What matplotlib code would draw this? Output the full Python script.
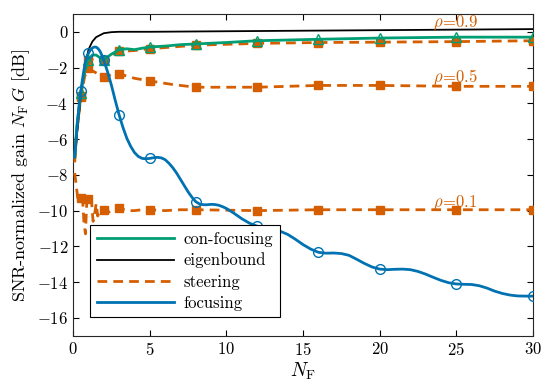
import numpy as np
import matplotlib
matplotlib.use("Agg")
import matplotlib.pyplot as plt
from matplotlib.lines import Line2D

plt.rcParams['font.family'] = 'serif'
plt.rcParams['font.serif'] = ['cmr10']
plt.rcParams['mathtext.fontset'] = 'cm'
plt.rcParams['axes.formatter.use_mathtext'] = True

# marker positions (N_F)
x_marks = [0.5, 1, 2, 3, 5, 8, 12, 16, 20, 25, 30]

# con-focusing
x_con = [0.1, 0.25, 0.5, 0.75, 1, 1.25, 1.5, 1.75, 2, 2.5, 3, 3.5, 4, 4.5, 5, 6, 7, 8, 10, 12, 16, 20, 25, 30]
y_con = [-7.0, -5.2, -3.4, -2.2, -1.55, -1.3, -1.3, -1.45, -1.55, -1.25, -1.0, -0.95, -1.0, -0.92, -0.85,
         -0.8, -0.72, -0.68, -0.6, -0.5, -0.42, -0.35, -0.3, -0.3]

# eigenbound
x_eig = [0.1, 0.3, 0.5, 0.75, 1, 1.25, 1.5, 2, 2.5, 3, 5, 10, 15, 20, 25, 30]
y_eig = [-7.0, -5.3, -3.6, -2.0, -1.0, -0.55, -0.3, -0.08, -0.02, 0.0, 0.0, 0.03, 0.06, 0.09, 0.12, 0.15]

# steering, rho = 0.9
x_s9 = [0.1, 0.25, 0.5, 0.75, 1, 1.5, 2, 2.5, 3, 4, 5, 6.5, 8, 10, 12, 16, 20, 25, 30]
y_s9 = [-7.1, -5.4, -3.6, -2.3, -1.6, -1.45, -1.6, -1.3, -1.1, -1.05, -0.95, -0.85, -0.75, -0.7,
        -0.65, -0.6, -0.58, -0.55, -0.5]

# steering, rho = 0.5
x_s5 = [0.1, 0.25, 0.5, 0.75, 1, 1.5, 2, 2.5, 3, 4, 5, 6.5, 8, 10, 12, 14, 16, 20, 25, 30]
y_s5 = [-7.3, -5.5, -3.65, -2.5, -2.05, -2.3, -2.55, -2.4, -2.35, -2.6, -2.75, -2.95, -3.1, -3.1,
        -3.1, -3.05, -3.0, -3.0, -3.05, -3.05]

# steering, rho = 0.1
x_s1 = [0.1, 0.2, 0.3, 0.4, 0.5, 0.6, 0.7, 0.8, 0.9, 1, 1.1, 1.2, 1.3, 1.4, 1.5, 1.6, 1.7, 1.8,
        2, 2.3, 2.6, 3, 3.5, 4, 4.5, 5, 6, 7, 8, 12, 16, 20, 25, 30]
y_s1 = [-7.9, -8.6, -9.3, -9.35, -9.3, -9.2, -10.6, -11.3, -9.3, -9.35, -9.2, -9.5, -10.6, -10.2,
        -9.6, -10.3, -10.1, -9.9, -9.95, -10.1, -9.9, -9.85, -10.0, -10.0, -9.95, -9.95, -10.0,
        -9.95, -9.95, -10.0, -9.95, -9.95, -9.95, -9.95]

# focusing
x_foc = [0.1, 0.2, 0.3, 0.4, 0.5, 0.6, 0.7, 0.8, 0.9, 1.0, 1.1, 1.2, 1.3, 1.4, 1.5, 1.6, 1.7,
         1.8, 1.9, 2.0, 2.25, 2.5, 2.75, 3.0, 3.25, 3.5, 3.75, 4.0, 4.25, 4.5, 4.75, 5.0, 5.25,
         5.5, 5.75, 6.0, 6.25, 6.5, 6.75, 7.0, 7.25, 7.5, 7.75, 8.0, 8.25, 8.5, 8.75, 9.0, 9.25,
         9.5, 9.75, 10, 10.5, 11, 11.5, 12, 12.5, 13, 13.5, 14, 14.5, 15, 15.5, 16, 16.5, 17,
         17.5, 18, 18.5, 19, 19.5, 20, 20.5, 21, 21.5, 22, 22.5, 23, 23.5, 24, 24.5, 25, 25.5,
         26, 26.5, 27, 27.5, 28, 28.5, 29, 29.5, 30]
y_foc = [-7.0, -5.9, -4.9, -4.0, -3.3, -2.7, -2.15, -1.7, -1.4, -1.2, -1.05, -0.95, -0.88,
         -0.85, -0.86, -0.92, -1.02, -1.17, -1.37, -1.6, -2.25, -3.0, -3.85, -4.65, -5.35,
         -5.95, -6.4, -6.75, -6.97, -7.08, -7.1, -7.08, -7.04, -7.02, -7.05, -7.15, -7.35,
         -7.6, -7.9, -8.25, -8.6, -8.95, -9.25, -9.5, -9.63, -9.67, -9.67, -9.65, -9.66, -9.7,
         -9.78, -9.88, -10.15, -10.45, -10.7, -10.87, -10.98, -11.05, -11.15, -11.33, -11.6,
         -11.9, -12.15, -12.33, -12.38, -12.37, -12.4, -12.5, -12.72, -12.95, -13.15, -13.27,
         -13.3, -13.28, -13.27, -13.3, -13.4, -13.55, -13.73, -13.9, -14.03, -14.1, -14.12,
         -14.13, -14.2, -14.33, -14.5, -14.63, -14.72, -14.77, -14.78, -14.78]

rho_labels = [r'$\rho\!=\!0.9$', r'$\rho\!=\!0.5$', r'$\rho\!=\!0.1$']
rho_y = [0.5, -2.55, -9.55]

green = '#009E73'
orange = '#D55E00'
blue = '#0072B2'


def marks(x, y):
    x = np.asarray(x)
    y = np.asarray(y)
    m = np.isin(x, x_marks)
    return x[m], y[m]


fig = plt.figure(figsize=(5.46, 3.86), dpi=100)
ax = fig.add_axes([0.134, 0.130, 0.842, 0.834])

ax.plot(x_eig, y_eig, color='black', lw=1.3, zorder=4)

for xs, ys in [(x_s9, y_s9), (x_s5, y_s5), (x_s1, y_s1)]:
    ax.plot(xs, ys, color=orange, lw=2, ls=(0, (3.5, 2.2)), zorder=3)
    mx, my = marks(xs, ys)
    ax.plot(mx, my, ls='none', marker='s', ms=5.5, color=orange, zorder=3)

ax.plot(x_con, y_con, color=green, lw=2, zorder=5)
mx, my = marks(x_con, y_con)
ax.plot(mx, my, ls='none', marker='^', ms=7, mfc='none', mec=green, mew=1, zorder=5)

ax.plot(x_foc, y_foc, color=blue, lw=2, zorder=6)
mx, my = marks(x_foc, y_foc)
ax.plot(mx, my, ls='none', marker='o', ms=7, mfc='none', mec=blue, mew=1, zorder=6)

for lab, yy in zip(rho_labels, rho_y):
    ax.text(23.5, yy, lab, color=orange, fontsize=12, va='center', ha='left', zorder=7)

ax.set_xlim(0, 30)
ax.set_ylim(-17, 1)
ax.set_xticks(range(0, 31, 5))
ax.set_yticks(range(-16, 1, 2))
ax.tick_params(direction='in', top=True, right=True, labelsize=12, length=4, width=0.8)
for s in ax.spines.values():
    s.set_linewidth(0.8)
    s.set_color('#262626')

ax.set_xlabel(r'$N_\mathrm{F}$', fontsize=14, labelpad=2)
ax.set_ylabel(r'SNR-normalized gain $N_\mathrm{F}\,G$ [dB]', fontsize=13, labelpad=4)

handles = [Line2D([], [], color=green, lw=2),
           Line2D([], [], color='black', lw=1.3),
           Line2D([], [], color=orange, lw=2, ls=(0, (3.5, 2.2))),
           Line2D([], [], color=blue, lw=2)]
leg = ax.legend(handles, ['con-focusing', 'eigenbound', 'steering', 'focusing'],
                loc='upper left', bbox_to_anchor=(0.037, 0.345), borderaxespad=0,
                fancybox=False, framealpha=1, edgecolor='black', fontsize=12,
                handlelength=4.6, handletextpad=0.6, labelspacing=0.35, borderpad=0.4)
leg.get_frame().set_linewidth(0.8)
leg.set_zorder(10)

fig.savefig('out.png', dpi=100)
